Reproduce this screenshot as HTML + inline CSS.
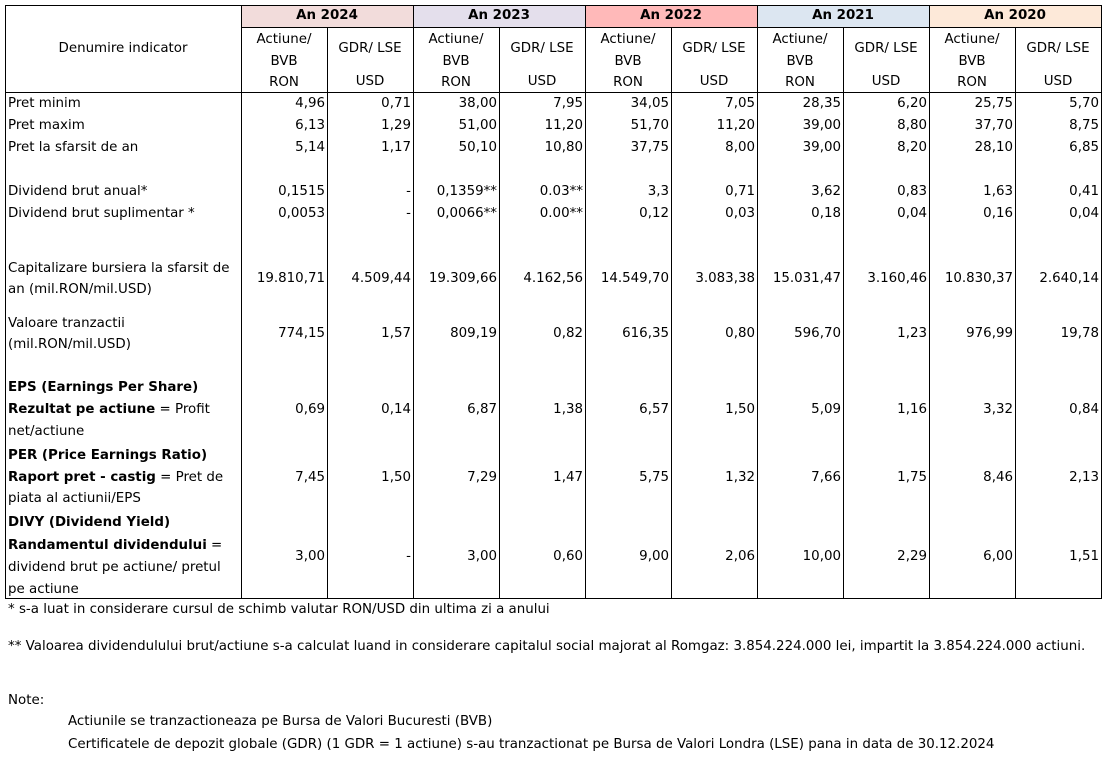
<!DOCTYPE html>
<html><head><meta charset="utf-8"><style>
body{margin:0;width:1110px;height:763px;background:#fff;font-family:"DejaVu Sans","Liberation Sans",sans-serif;font-size:13.4px;color:#000;position:relative;overflow:hidden}
.a{position:absolute;white-space:nowrap;line-height:20px}
.h{position:absolute;background:#000}
.r{text-align:right}
.c{text-align:center}
b{font-weight:bold}
</style></head><body>
<div class="a" style="left:241px;top:5px;width:172px;height:22px;background:#f2dcdb"></div>
<div class="a" style="left:413px;top:5px;width:172px;height:22px;background:#e4dfec"></div>
<div class="a" style="left:585px;top:5px;width:172px;height:22px;background:#ffb9b9"></div>
<div class="a" style="left:757px;top:5px;width:172px;height:22px;background:#dce6f1"></div>
<div class="a" style="left:929px;top:5px;width:172px;height:22px;background:#fde9d9"></div>
<div class="h" style="left:5px;top:5px;width:1097px;height:1px"></div>
<div class="h" style="left:241px;top:27px;width:861px;height:1px"></div>
<div class="h" style="left:5px;top:92px;width:1097px;height:1px"></div>
<div class="h" style="left:5px;top:598px;width:1097px;height:1px"></div>
<div class="h" style="left:5px;top:5px;width:1px;height:594px"></div>
<div class="h" style="left:241px;top:5px;width:1px;height:594px"></div>
<div class="h" style="left:413px;top:5px;width:1px;height:594px"></div>
<div class="h" style="left:585px;top:5px;width:1px;height:594px"></div>
<div class="h" style="left:757px;top:5px;width:1px;height:594px"></div>
<div class="h" style="left:929px;top:5px;width:1px;height:594px"></div>
<div class="h" style="left:1101px;top:5px;width:1px;height:594px"></div>
<div class="h" style="left:327px;top:27px;width:1px;height:572px"></div>
<div class="h" style="left:499px;top:27px;width:1px;height:572px"></div>
<div class="h" style="left:671px;top:27px;width:1px;height:572px"></div>
<div class="h" style="left:843px;top:27px;width:1px;height:572px"></div>
<div class="h" style="left:1015px;top:27px;width:1px;height:572px"></div>

<div class="a c" style="left:5px;top:39px;width:236px">Denumire indicator</div>
<div class="a c" style="left:241px;top:6px;width:172px"><b>An 2024</b></div>
<div class="a c" style="left:413px;top:6px;width:172px"><b>An 2023</b></div>
<div class="a c" style="left:585px;top:6px;width:172px"><b>An 2022</b></div>
<div class="a c" style="left:757px;top:6px;width:172px"><b>An 2021</b></div>
<div class="a c" style="left:929px;top:6px;width:172px"><b>An 2020</b></div>

<div id="sub"></div>
<script>
var xs=[241,413,585,757,929],h='';
xs.forEach(function(x){
h+='<div class="a c" style="left:'+x+'px;top:29px;width:86px;line-height:21.5px">Actiune/<br>BVB<br>RON</div>';
h+='<div class="a c" style="left:'+(x+86)+'px;top:39px;width:86px">GDR/ LSE</div>';
h+='<div class="a c" style="left:'+(x+86)+'px;top:72px;width:86px">USD</div>';
});
var rows=[
[103,['4,96','0,71','38,00','7,95','34,05','7,05','28,35','6,20','25,75','5,70']],
[125,['6,13','1,29','51,00','11,20','51,70','11,20','39,00','8,80','37,70','8,75']],
[147,['5,14','1,17','50,10','10,80','37,75','8,00','39,00','8,20','28,10','6,85']],
[191,['0,1515','-','0,1359**','0.03**','3,3','0,71','3,62','0,83','1,63','0,41']],
[213,['0,0053','-','0,0066**','0.00**','0,12','0,03','0,18','0,04','0,16','0,04']],
[278,['19.810,71','4.509,44','19.309,66','4.162,56','14.549,70','3.083,38','15.031,47','3.160,46','10.830,37','2.640,14']],
[333,['774,15','1,57','809,19','0,82','616,35','0,80','596,70','1,23','976,99','19,78']],
[409,['0,69','0,14','6,87','1,38','6,57','1,50','5,09','1,16','3,32','0,84']],
[477,['7,45','1,50','7,29','1,47','5,75','1,32','7,66','1,75','8,46','2,13']],
[556,['3,00','-','3,00','0,60','9,00','2,06','10,00','2,29','6,00','1,51']]];
rows.forEach(function(r){r[1].forEach(function(v,i){
h+='<div class="a r" style="left:'+(241+86*i)+'px;top:'+(r[0]-9)+'px;width:84px">'+v+'</div>';});});
var labs=[[103,'Pret minim'],[125,'Pret maxim'],[147,'Pret la sfarsit de an'],[191,'Dividend brut anual*'],[213,'Dividend brut suplimentar *'],
[268,'Capitalizare bursiera la sfarsit de'],[289,'an (mil.RON/mil.USD)'],[323,'Valoare tranzactii'],[344,'(mil.RON/mil.USD)'],
[387,'<b>EPS (Earnings Per Share)</b>'],[409,'<b>Rezultat pe actiune</b> = Profit'],[431,'net/actiune'],
[455,'<b>PER (Price Earnings Ratio)</b>'],[477,'<b>Raport pret - castig</b> = Pret de'],[498,'piata al actiunii/EPS'],
[522,'<b>DIVY (Dividend Yield)</b>'],[545,'<b>Randamentul dividendului</b> ='],[567,'dividend brut pe actiune/ pretul'],[589,'pe actiune'],
];
labs.forEach(function(l){h+='<div class="a" style="left:8px;top:'+(l[0]-9)+'px">'+l[1]+'</div>';});
var notes=[[8,609,'* s-a luat in considerare cursul de schimb valutar RON/USD din ultima zi a anului'],
[8,646,'** Valoarea dividendulului brut/actiune s-a calculat luand in considerare capitalul social majorat al Romgaz: 3.854.224.000 lei, impartit la 3.854.224.000 actiuni.'],
[8,700,'Note:'],[68,721,'Actiunile se tranzactioneaza pe Bursa de Valori Bucuresti (BVB)'],
[68,744,'Certificatele de depozit globale (GDR) (1 GDR = 1 actiune) s-au tranzactionat pe Bursa de Valori Londra (LSE) pana in data de 30.12.2024']];
notes.forEach(function(n){h+='<div class="a" style="left:'+n[0]+'px;top:'+(n[1]-9)+'px">'+n[2]+'</div>';});
document.getElementById('sub').outerHTML=h;
</script>
</body></html>
